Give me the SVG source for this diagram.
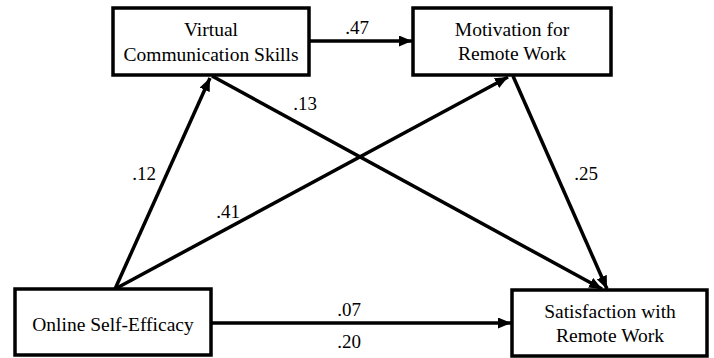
<svg xmlns="http://www.w3.org/2000/svg" width="714" height="358" viewBox="0 0 714 358">
<defs>
<marker id="ah" markerUnits="userSpaceOnUse" markerWidth="13" markerHeight="11" refX="13" refY="5.5" orient="auto">
<path d="M0,0 L13,5.5 L0,11 z" fill="#000"/>
</marker>
</defs>
<rect width="714" height="358" fill="#fff"/>
<g id="connectors" stroke="#000" stroke-width="3.5" fill="none" marker-end="url(#ah)">
<line x1="309" y1="41" x2="412" y2="41"/>
<line x1="115" y1="289" x2="210" y2="78"/>
<line x1="115" y1="289" x2="508" y2="77"/>
<line x1="212" y1="76" x2="602" y2="289"/>
<line x1="513" y1="76" x2="607" y2="289"/>
<line x1="211" y1="323" x2="511" y2="323"/>
</g>
<g id="labels" text-anchor="middle" fill="#000">
<text font-family="Liberation Serif, serif" font-size="19" x="357" y="34">.47</text>
<text font-family="Liberation Serif, serif" font-size="19" x="144" y="180">.12</text>
<text font-family="Liberation Serif, serif" font-size="19" x="305" y="110">.13</text>
<text font-family="Liberation Serif, serif" font-size="19" x="228" y="218">.41</text>
<text font-family="Liberation Serif, serif" font-size="19" x="586" y="180">.25</text>
<text font-family="Liberation Serif, serif" font-size="19" x="349" y="316">.07</text>
<text font-family="Liberation Serif, serif" font-size="19" x="349" y="348">.20</text>
</g>
<g id="vcs">
<rect x="113" y="8" width="196" height="67" fill="#fff" stroke="#000" stroke-width="3.5"/>
<text font-family="Liberation Serif, serif" font-size="19.5" text-anchor="middle" x="211" y="36">Virtual</text>
<text font-family="Liberation Serif, serif" font-size="19.5" text-anchor="middle" x="211" y="61">Communication Skills</text>
</g>
<g id="mrw">
<rect x="413" y="8" width="198" height="67" fill="#fff" stroke="#000" stroke-width="3.5"/>
<text font-family="Liberation Serif, serif" font-size="19.5" text-anchor="middle" x="512" y="36">Motivation for</text>
<text font-family="Liberation Serif, serif" font-size="19.5" text-anchor="middle" x="512" y="60">Remote Work</text>
</g>
<g id="ose">
<rect x="15" y="289" width="196" height="66" fill="#fff" stroke="#000" stroke-width="3.5"/>
<text font-family="Liberation Serif, serif" font-size="19.5" text-anchor="middle" x="113" y="331">Online Self-Efficacy</text>
</g>
<g id="srw">
<rect x="512" y="290" width="195" height="66" fill="#fff" stroke="#000" stroke-width="3.5"/>
<text font-family="Liberation Serif, serif" font-size="19.5" text-anchor="middle" x="610" y="318">Satisfaction with</text>
<text font-family="Liberation Serif, serif" font-size="19.5" text-anchor="middle" x="610" y="342">Remote Work</text>
</g>
</svg>
